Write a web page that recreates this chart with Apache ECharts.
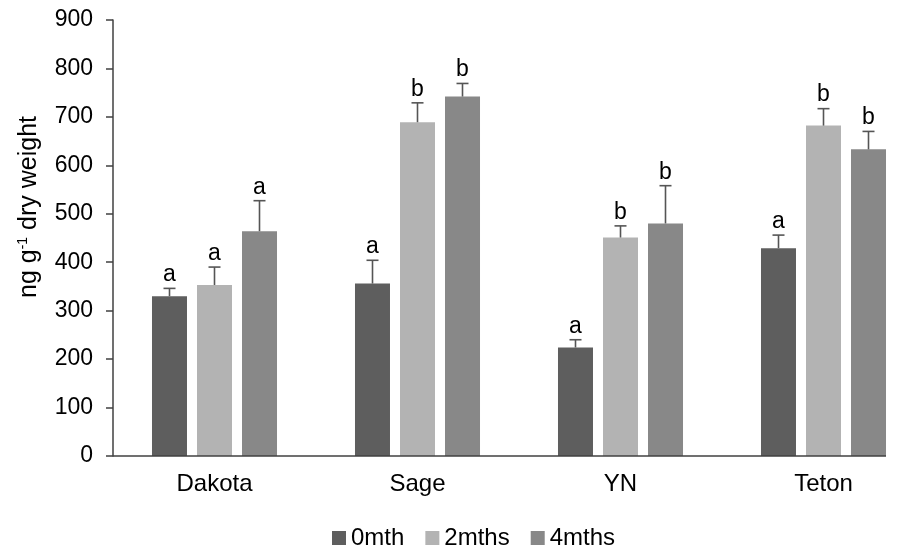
<!DOCTYPE html>
<html>
<head>
<meta charset="utf-8">
<script src="https://cdn.jsdelivr.net/npm/echarts@6/dist/echarts.min.js"></script>
<style>
html,body{margin:0;padding:0;background:#fff;overflow:hidden;width:912px;height:548px;}
#chart{width:940px;height:548px;}
</style>
</head>
<body>
<div id="chart"></div>
<script>
const categories = ['Dakota', 'Sage', 'YN', 'Teton'];
const seriesNames = ['0mth', '2mths', '4mths'];
const means0 = [330, 356, 224, 429];
const means2 = [353, 689, 451, 682];
const means4 = [464, 742, 480, 633];
const err0 = [16, 48, 16, 27];
const err2 = [37, 40, 24, 35];
const err4 = [63, 27, 78, 37];
const letters0 = ['a', 'a', 'a', 'a'];
const letters2 = ['a', 'b', 'b', 'b'];
const letters4 = ['a', 'b', 'b', 'b'];
const yTicks = [0, 100, 200, 300, 400, 500, 600, 700, 800, 900];

const colors = ['#5e5e5e', '#b3b3b3', '#888888'];
const FONT = '"Liberation Sans", Arial, sans-serif';
const BAR_W = 35;
const BAR_GAP = 10;

const chart = echarts.init(document.getElementById('chart'));

const means = [means0, means2, means4];
const errs = [err0, err2, err4];
const letters = [letters0, letters2, letters4];

function errSeries(i) {
  const offset = (i - 1) * (BAR_W + BAR_GAP);
  return {
    type: 'custom',
    name: seriesNames[i] + ' err',
    z: 5,
    silent: true,
    encode: { x: 0, y: 1 },
    data: categories.map((c, k) => [k, means[i][k], means[i][k] + errs[i][k]]),
    renderItem: function (params, api) {
      const k = params.dataIndex;
      const base = api.coord([api.value(0), api.value(1)]);
      const top = api.coord([api.value(0), api.value(2)]);
      const x = base[0] + offset;
      return {
        type: 'group',
        children: [
          { type: 'line', shape: { x1: x, y1: base[1], x2: x, y2: top[1] },
            style: { stroke: '#555555', lineWidth: 1.6 } },
          { type: 'line', shape: { x1: x - 6, y1: top[1], x2: x + 6, y2: top[1] },
            style: { stroke: '#555555', lineWidth: 1.6 } },
          { type: 'text', x: x, y: top[1] - 2,
            style: { text: letters[i][k], fill: '#000', font: '23px ' + FONT,
                     align: 'center', verticalAlign: 'bottom' } }
        ]
      };
    }
  };
}

const option = {
  animation: false,
  backgroundColor: '#fff',
  grid: { left: 113, top: 20, bottom: 92, width: 812, containLabel: false },
  legend: {
    data: seriesNames,
    top: 521,
    left: 327,
    icon: 'rect',
    itemWidth: 14,
    itemHeight: 14,
    itemGap: 21,
    textStyle: { fontSize: 24, color: '#000', fontFamily: FONT }
  },
  xAxis: {
    type: 'category',
    data: categories,
    axisLine: { show: false },
    axisTick: { show: false },
    axisLabel: { fontSize: 24, color: '#000', fontFamily: FONT, margin: 16 },
    splitLine: { show: false }
  },
  yAxis: {
    type: 'value',
    min: yTicks[0],
    max: yTicks[yTicks.length - 1],
    interval: 100,
    name: 'ng g{sup|-1} dry weight',
    nameLocation: 'middle',
    nameRotate: 90,
    nameGap: 70,
    nameTextStyle: {
      fontSize: 25, color: '#000', fontFamily: FONT,
      padding: [0, 0, 0, 62],
      rich: { sup: { fontSize: 14, color: '#000', fontFamily: FONT, padding: [0, 0, 13, 0] } }
    },
    axisLine: { show: true, lineStyle: { color: '#404040', width: 1.5 } },
    axisTick: { show: true, inside: false, length: 7, lineStyle: { color: '#404040', width: 1.5 } },
    axisLabel: { fontSize: 23, color: '#000', fontFamily: FONT, margin: 20 },
    splitLine: { show: false }
  },
  series: seriesNames.map((n, i) => ({
    type: 'bar',
    name: n,
    data: means[i],
    barWidth: BAR_W,
    barGap: (BAR_GAP / BAR_W * 100).toFixed(1) + '%',
    itemStyle: { color: colors[i] }
  })).concat([0, 1, 2].map(errSeries))
};

chart.setOption(option);

// x-axis baseline: from grid left to the right edge of the last bar group
const p0 = chart.convertToPixel({ xAxisIndex: 0, yAxisIndex: 0 }, [0, 0]);
const p1 = chart.convertToPixel({ xAxisIndex: 0, yAxisIndex: 0 }, [1, 0]);
const pLast = chart.convertToPixel({ xAxisIndex: 0, yAxisIndex: 0 }, [categories.length - 1, 0]);
const band = p1[0] - p0[0];
const xStart = p0[0] - band / 2;
const xEnd = pLast[0] + 1.5 * BAR_W + BAR_GAP;
chart.setOption({
  graphic: [{
    type: 'line', z: 10,
    shape: { x1: xStart, y1: p0[1], x2: xEnd, y2: p0[1] },
    style: { stroke: '#404040', lineWidth: 1.5 }
  }]
});
</script>
</body>
</html>
